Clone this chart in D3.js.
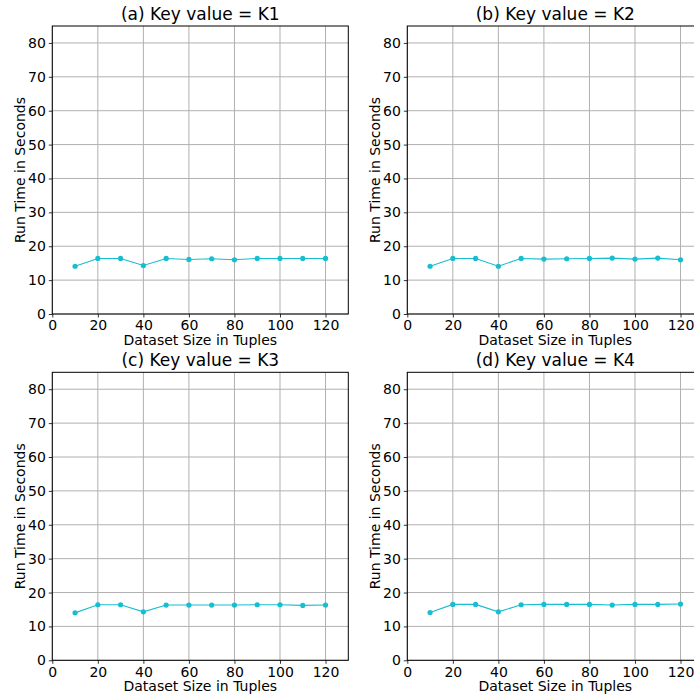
<!DOCTYPE html>
<html>
<head>
<meta charset="utf-8">
<script src="https://cdn.jsdelivr.net/npm/d3@7"></script>
<style>
  body { margin: 0; background: #fff; }
  svg { display: block; font-family: "DejaVu Sans", sans-serif; }
</style>
</head>
<body>
<svg id="chart" width="694" height="694"></svg>
<script>
// dataset sizes (x) shared by every panel
const sizes = [10, 20, 30, 40, 50, 60, 70, 80, 90, 100, 110, 120];

// run times, one array per key value
const runK1 = [14.1, 16.4, 16.4, 14.3, 16.4, 16.1, 16.3, 16.0, 16.4, 16.4, 16.4, 16.4];
const runK2 = [14.1, 16.4, 16.4, 14.1, 16.4, 16.2, 16.3, 16.4, 16.5, 16.2, 16.5, 16.0];
const runK3 = [14.0, 16.4, 16.4, 14.3, 16.3, 16.3, 16.3, 16.3, 16.4, 16.4, 16.2, 16.3];
const runK4 = [14.1, 16.5, 16.5, 14.3, 16.4, 16.5, 16.5, 16.5, 16.3, 16.5, 16.5, 16.6];

const titles = ["(a) Key value = K1", "(b) Key value = K2", "(c) Key value = K3", "(d) Key value = K4"];
const xTicks = [0, 20, 40, 60, 80, 100, 120];
const yTicks = [0, 10, 20, 30, 40, 50, 60, 70, 80];

const series = [runK1, runK2, runK3, runK4];

const svg = d3.select("#chart");
const color = "#17becf";
const pw = 296, ph = 288;
const origins = [[52.3, 26], [407.3, 26], [52.3, 372.3], [407.3, 372.3]];

const x = d3.scaleLinear().domain([0, 130]).range([0, pw]);
const y = d3.scaleLinear().domain([0, 85]).range([ph, 0]);

series.forEach(function(vals, i) {
  let g = svg.append("g")
    .attr("transform", "translate(" + origins[i][0] + "," + origins[i][1] + ")");

  // grid
  g.append("g").selectAll("line").data(xTicks).enter().append("line")
    .attr("x1", d => x(d)).attr("x2", d => x(d))
    .attr("y1", 0).attr("y2", ph)
    .attr("stroke", "#b0b0b0").attr("stroke-width", 1);
  g.append("g").selectAll("line").data(yTicks).enter().append("line")
    .attr("x1", 0).attr("x2", pw)
    .attr("y1", d => y(d)).attr("y2", d => y(d))
    .attr("stroke", "#b0b0b0").attr("stroke-width", 1);

  // axes
  let xAxis = g.append("g")
    .attr("transform", "translate(0," + ph + ")")
    .call(d3.axisBottom(x).tickValues(xTicks).tickSize(3.5).tickPadding(3).tickSizeOuter(0));
  let yAxis = g.append("g")
    .call(d3.axisLeft(y).tickValues(yTicks).tickSize(3.5).tickPadding(3).tickSizeOuter(0));
  [xAxis, yAxis].forEach(function(ax) {
    ax.select(".domain").remove();
    ax.selectAll("line").attr("stroke", "#000").attr("stroke-width", 0.8);
    ax.selectAll("text")
      .attr("font-family", "DejaVu Sans")
      .attr("font-size", "14px")
      .attr("fill", "#000");
  });

  // frame
  g.append("rect")
    .attr("width", pw).attr("height", ph)
    .attr("fill", "none").attr("stroke", "#000").attr("stroke-width", 1);

  // line + markers
  let pts = sizes.map((s, j) => [s, vals[j]]);
  g.append("path")
    .datum(pts)
    .attr("fill", "none")
    .attr("stroke", color)
    .attr("stroke-width", 1.1)
    .attr("d", d3.line().x(d => x(d[0])).y(d => y(d[1])));
  g.selectAll("circle.pt").data(pts).enter().append("circle")
    .attr("class", "pt")
    .attr("cx", d => x(d[0])).attr("cy", d => y(d[1]))
    .attr("r", 2.6)
    .attr("fill", color);

  // title
  g.append("text")
    .attr("x", pw / 2).attr("y", -6)
    .attr("text-anchor", "middle")
    .attr("font-size", "17px")
    .text(titles[i]);

  // axis labels
  g.append("text")
    .attr("x", pw / 2).attr("y", ph + 30.5)
    .attr("text-anchor", "middle")
    .attr("font-size", "14px")
    .text("Dataset Size in Tuples");
  g.append("text")
    .attr("transform", "translate(-27," + (ph / 2) + ") rotate(-90)")
    .attr("text-anchor", "middle")
    .attr("font-size", "14px")
    .text("Run Time in Seconds");
});
</script>
</body>
</html>
